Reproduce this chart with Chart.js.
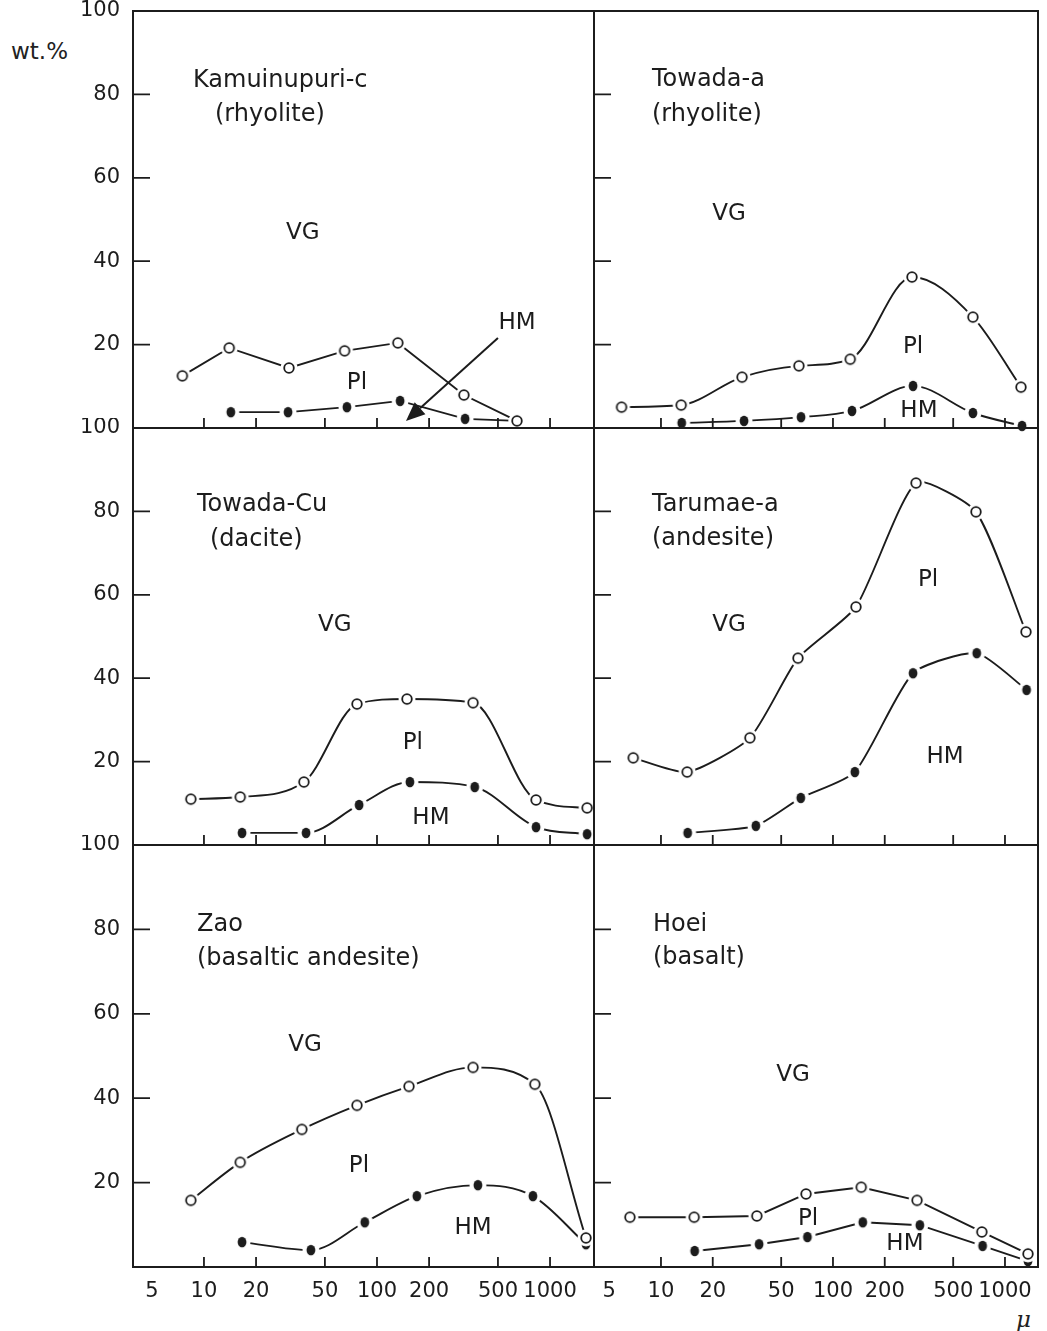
<!DOCTYPE html>
<html>
<head>
<meta charset="utf-8">
<script src="https://cdn.jsdelivr.net/npm/chart.js@4.4.1/dist/chart.umd.min.js"></script>
<style>
  html, body { margin: 0; padding: 0; background: #fff; }
  #page { position: relative; width: 1047px; height: 1331px; overflow: hidden; font-family: "DejaVu Sans", sans-serif; color: #222; }
  .panel { position: absolute; }
  .note { position: absolute; font-size: 23px; line-height: 1; }
</style>
</head>
<body>
<div id="page">
  <div class="note" style="left:11px; top:40px;">wt.%</div>
  <div class="note" style="left:1016px; top:1308px; font-family:'DejaVu Serif', serif; font-style:italic;">μ</div>
</div>
<script>
// grain size (μ) against cumulative wt.%
// VG = upper boundary of the Pl field (open circles), HM = upper boundary of HM (filled)
const kamuiVgSize = [7.5, 14.0, 31, 65, 132, 318, 644];
const kamuiVg     = [12.5, 19.2, 14.4, 18.5, 20.4, 7.9, 1.7];
const kamuiHmSize = [14.3, 30.6, 67, 136, 323, 644];
const kamuiHm     = [3.8, 3.8, 5.0, 6.5, 2.2, 1.7];

const towadaAVgSize = [5.9, 13.1, 29.6, 63.4, 126, 288, 651, 1239];
const towadaAVg     = [5.0, 5.5, 12.2, 14.9, 16.5, 36.2, 26.6, 9.8];
const towadaAHmSize = [13.2, 30.4, 65.2, 129, 292, 651, 1256];
const towadaAHm     = [1.2, 1.7, 2.6, 4.1, 10.1, 3.6, 0.5];

const towadaCuVgSize = [8.4, 16.2, 37.8, 76.6, 149, 359, 830, 1637];
const towadaCuVg     = [11.0, 11.5, 15.1, 33.8, 35.0, 34.1, 10.8, 8.9];
const towadaCuHmSize = [16.6, 38.9, 78.8, 155, 367, 830, 1637];
const towadaCuHm     = [2.9, 2.9, 9.6, 15.1, 13.9, 4.3, 2.6];

const tarumaeVgSize = [6.9, 14.2, 32.9, 62.6, 136, 304, 678, 1324];
const tarumaeVg     = [20.9, 17.5, 25.7, 44.8, 57.1, 86.8, 79.9, 51.1];
const tarumaeHmSize = [14.3, 35.6, 65, 134, 292, 685, 1336];
const tarumaeHm     = [2.9, 4.6, 11.3, 17.5, 41.2, 46.0, 37.2];

const zaoVgSize = [8.4, 16.2, 36.8, 76.6, 153, 359, 817, 1613];
const zaoVg     = [15.8, 24.8, 32.6, 38.3, 42.8, 47.3, 43.3, 6.9];
const zaoHmSize = [16.6, 41.5, 85, 170, 383, 796, 1613];
const zaoHm     = [5.9, 4.0, 10.6, 16.8, 19.4, 16.8, 5.4];

const hoeiVgSize = [6.6, 15.6, 36.1, 69.7, 146, 308, 734, 1361];
const hoeiVg     = [11.8, 11.8, 12.1, 17.3, 18.9, 15.8, 8.3, 3.1];
const hoeiHmSize = [15.7, 37.2, 71, 149, 320, 741, 1361];
const hoeiHm     = [3.8, 5.4, 7.1, 10.6, 9.9, 5.0, 1.4];

const sizeTicks = [5, 10, 20, 50, 100, 200, 500, 1000];
const pctTicks  = [0, 20, 40, 60, 80, 100];

const ink = '#1c1c1c';
const font = 'DejaVu Sans';

// plot-area edges in page pixels, and the canvas box around each
const colArea = [[133, 594], [594, 1038]];
const rowArea = [[11, 428], [428, 845], [845, 1267]];
const colBox  = [[0, 600], [588, 1047]];
const rowBox  = [[0, 440], [418, 858], [835, 1331]];
const colRange = [[3.89, 1795], [4.08, 1556]];

// curve: 'monotone' or a bezier tension
const panels = [
  { col: 0, row: 0, curve: 0,
    vg: [kamuiVgSize, kamuiVg], hm: [kamuiHmSize, kamuiHm],
    title: [['Kamuinupuri-c', 60, 70], ['(rhyolite)', 82, 104]],
    zones: [['VG', 37.3, 46.8], ['Pl', 76.6, 10.8], ['HM', 644, 25.2]],
    arrow: [[500, 21.6], [147, 1.7]] },
  { col: 1, row: 0, curve: 'monotone',
    vg: [towadaAVgSize, towadaAVg], hm: [towadaAHmSize, towadaAHm],
    title: [['Towada-a', 58, 69], ['(rhyolite)', 58, 104]],
    zones: [['VG', 24.9, 51.3], ['Pl', 292, 19.4], ['HM', 316, 4.1]] },
  { col: 0, row: 1, curve: 'monotone',
    vg: [towadaCuVgSize, towadaCuVg], hm: [towadaCuHmSize, towadaCuHm],
    title: [['Towada-Cu', 64, 77], ['(dacite)', 77, 112]],
    zones: [['VG', 57.1, 52.8], ['Pl', 161, 24.5], ['HM', 205, 6.5]] },
  { col: 1, row: 1, curve: 0.2,
    vg: [tarumaeVgSize, tarumaeVg], hm: [tarumaeHmSize, tarumaeHm],
    title: [['Tarumae-a', 58, 77], ['(andesite)', 58, 111]],
    zones: [['VG', 24.9, 52.8], ['Pl', 357, 63.5], ['HM', 448, 21.1]] },
  { col: 0, row: 2, curve: 'monotone',
    vg: [zaoVgSize, zaoVg], hm: [zaoHmSize, zaoHm],
    title: [['Zao', 64, 80], ['(basaltic andesite)', 64, 114]],
    zones: [['VG', 38.4, 52.7], ['Pl', 78.7, 23.9], ['HM', 359, 9.2]] },
  { col: 1, row: 2, curve: 0,
    vg: [hoeiVgSize, hoeiVg], hm: [hoeiHmSize, hoeiHm],
    title: [['Hoei', 59, 80], ['(basalt)', 59, 113]],
    zones: [['VG', 58.5, 45.4], ['Pl', 71.6, 11.3], ['HM', 262, 5.4]] }
];

// markers with a white halo so the connecting lines stop short of them
function makeMarker(filled) {
  const c = document.createElement('canvas');
  c.width = c.height = 20;
  const g = c.getContext('2d');
  g.fillStyle = '#fff';
  g.beginPath(); g.arc(10, 10, 8.5, 0, Math.PI * 2); g.fill();
  if (filled) {
    g.fillStyle = ink;
    g.beginPath(); g.ellipse(10, 10, 4.4, 5.2, 0, 0, Math.PI * 2); g.fill();
  } else {
    g.strokeStyle = ink; g.lineWidth = 1.8;
    g.beginPath(); g.arc(10, 10, 4.8, 0, Math.PI * 2); g.stroke();
  }
  return c;
}
const openMark = makeMarker(false);
const solidMark = makeMarker(true);

const panelDecor = {
  id: 'panelDecor',
  afterDraw(chart, args, opts) {
    const { ctx, chartArea: a } = chart;
    const x = chart.scales.x, y = chart.scales.y;
    ctx.save();
    ctx.strokeStyle = ink;
    ctx.lineWidth = 2;
    ctx.strokeRect(a.left, a.top, a.right - a.left, a.bottom - a.top);

    // short tick marks pointing into the frame
    ctx.lineWidth = 1.8;
    ctx.beginPath();
    sizeTicks.slice(1).forEach(v => {
      const px = x.getPixelForValue(v);
      ctx.moveTo(px, a.bottom); ctx.lineTo(px, a.bottom - 10);
    });
    pctTicks.slice(1, -1).forEach(v => {
      const py = y.getPixelForValue(v);
      ctx.moveTo(a.left, py); ctx.lineTo(a.left + 17, py);
    });
    ctx.stroke();

    ctx.fillStyle = ink;
    ctx.textBaseline = 'middle';
    ctx.textAlign = 'left';
    ctx.font = `24px "${font}"`;
    opts.title.forEach(([t, dx, dy]) => ctx.fillText(t, a.left + dx, a.top + dy));

    ctx.textAlign = 'center';
    ctx.font = `23px "${font}"`;
    opts.zones.forEach(([t, vx, vy]) => ctx.fillText(t, x.getPixelForValue(vx), y.getPixelForValue(vy)));

    if (opts.arrow) {
      const [p0, p1] = opts.arrow;
      const x0 = x.getPixelForValue(p0[0]), y0 = y.getPixelForValue(p0[1]);
      const x1 = x.getPixelForValue(p1[0]), y1 = y.getPixelForValue(p1[1]);
      const ang = Math.atan2(y1 - y0, x1 - x0);
      const len = 19, half = 8;
      const bx = x1 - len * Math.cos(ang), by = y1 - len * Math.sin(ang);
      ctx.lineWidth = 2;
      ctx.beginPath(); ctx.moveTo(x0, y0); ctx.lineTo(bx, by); ctx.stroke();
      ctx.beginPath();
      ctx.moveTo(x1, y1);
      ctx.lineTo(bx + half * Math.sin(ang), by - half * Math.cos(ang));
      ctx.lineTo(bx - half * Math.sin(ang), by + half * Math.cos(ang));
      ctx.closePath(); ctx.fill();
    }
    ctx.restore();
  }
};

const toPoints = (xs, ys) => xs.map((v, i) => ({ x: v, y: ys[i] }));

function series(pair, mark, curve) {
  return {
    data: toPoints(pair[0], pair[1]),
    showLine: true,
    borderColor: ink,
    borderWidth: 1.9,
    cubicInterpolationMode: curve === 'monotone' ? 'monotone' : 'default',
    tension: curve === 'monotone' ? 0 : curve,
    pointStyle: mark,
    pointRadius: 6,
    clip: false
  };
}

const page = document.getElementById('page');

panels.forEach(p => {
  const [bx0, bx1] = colBox[p.col], [by0, by1] = rowBox[p.row];
  const [ax0, ax1] = colArea[p.col], [ay0, ay1] = rowArea[p.row];
  const holder = document.createElement('div');
  holder.className = 'panel';
  holder.style.left = bx0 + 'px';
  holder.style.top = by0 + 'px';
  holder.style.width = (bx1 - bx0) + 'px';
  holder.style.height = (by1 - by0) + 'px';
  const canvas = document.createElement('canvas');
  holder.appendChild(canvas);
  page.appendChild(holder);

  new Chart(canvas, {
    type: 'scatter',
    data: {
      datasets: [
        series(p.vg, openMark, p.curve),
        series(p.hm, solidMark, p.curve)
      ]
    },
    options: {
      responsive: true,
      maintainAspectRatio: false,
      animation: false,
      events: [],
      layout: {
        autoPadding: false,
        padding: { left: 0, right: bx1 - ax1, top: ay0 - by0, bottom: 0 }
      },
      plugins: {
        legend: { display: false },
        tooltip: { enabled: false },
        panelDecor: { title: p.title, zones: p.zones, arrow: p.arrow }
      },
      scales: {
        x: {
          type: 'logarithmic',
          min: colRange[p.col][0],
          max: colRange[p.col][1],
          grid: { display: false, drawTicks: false },
          border: { display: false },
          afterBuildTicks: s => { s.ticks = sizeTicks.map(v => ({ value: v })); },
          afterFit: s => { s.height = by1 - ay1; s.paddingLeft = 0; s.paddingRight = 0; },
          ticks: {
            display: p.row === 2,
            autoSkip: false,
            maxRotation: 0,
            padding: 12,
            color: ink,
            font: { family: font, size: 21 },
            callback: v => String(v)
          }
        },
        y: {
          type: 'linear',
          min: 0,
          max: 100,
          grid: { display: false, drawTicks: false },
          border: { display: false },
          afterBuildTicks: s => { s.ticks = pctTicks.map(v => ({ value: v })); },
          afterFit: s => { s.width = ax0 - bx0; s.paddingTop = 0; s.paddingBottom = 0; },
          ticks: {
            display: p.col === 0,
            autoSkip: false,
            padding: 13,
            color: ink,
            font: { family: font, size: 21 },
            callback: v => (v === 0 ? '' : String(v))
          }
        }
      }
    },
    plugins: [panelDecor]
  });
});
</script>
</body>
</html>
